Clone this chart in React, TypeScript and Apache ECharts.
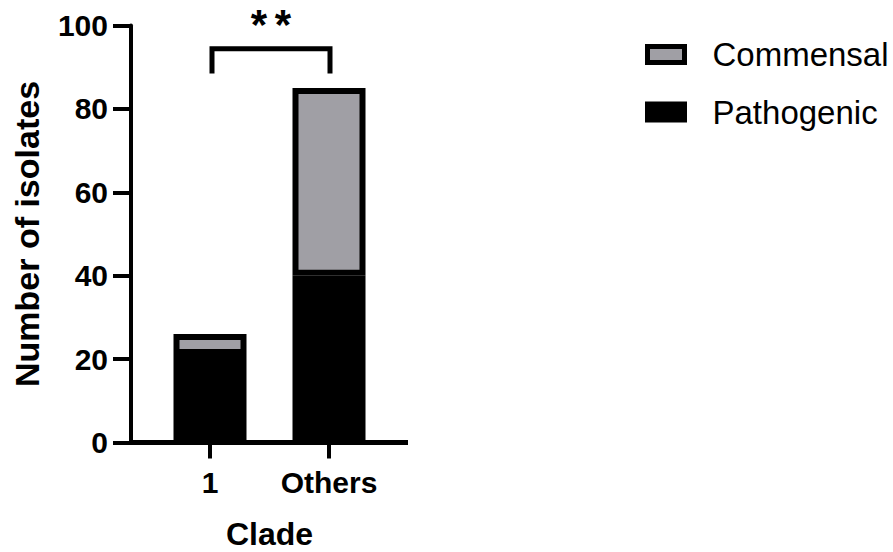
import React, { useEffect, useRef } from "react";
import * as echarts from "echarts";

const categories = ["1", "Others"];
const pathogenic = [21, 40];
const commensal = [5, 45];
const yTicks = [0, 20, 40, 60, 80, 100];
const bracketTop = 94.4;
const bracketBottom = 88.5;
const significance = ["*", "*"];

const FONT = '"Liberation Sans", Arial, Helvetica, sans-serif';
const GRAY = "#a09fa5";

export default function App() {
  const ref = useRef<HTMLDivElement>(null);
  useEffect(() => {
    if (!ref.current) return;
    const chart = echarts.init(ref.current, undefined, { renderer: "svg" });
    const option: any = {
      animation: false,
      backgroundColor: "#ffffff",
      textStyle: { fontFamily: FONT },
      grid: {
        left: 150.5,
        width: 238,
        top: 25.5,
        bottom: 109.5,
        containLabel: false,
        outerBoundsMode: "none",
      },
      legend: {
        orient: "vertical",
        left: 645,
        top: 38,
        padding: 0,
        icon: "rect",
        itemWidth: 37,
        itemHeight: 16,
        itemGap: 24.5,
        textStyle: { fontSize: 33, color: "#000", fontFamily: FONT, lineHeight: 32, padding: [0, 0, 0, 23] },
        data: [
          { name: "Commensal", itemStyle: { color: GRAY, borderColor: "#000", borderWidth: 5 } },
          { name: "Pathogenic", itemStyle: { color: "#000", borderColor: "#000", borderWidth: 5 } },
        ],
      },
      xAxis: {
        type: "category",
        data: categories,
        name: "Clade",
        nameLocation: "middle",
        nameGap: 75,
        nameTextStyle: { fontSize: 32, lineHeight: 32, fontWeight: "bold", color: "#000", fontFamily: FONT },
        axisLine: { show: true, lineStyle: { color: "#000", width: 5 } },
        axisTick: { show: true, alignWithLabel: true, length: 16, lineStyle: { color: "#000", width: 4 } },
        axisLabel: { interval: 0, fontSize: 30, fontWeight: "bold", color: "#000", margin: 25, fontFamily: FONT },
      },
      yAxis: {
        type: "value",
        min: yTicks[0],
        max: yTicks[yTicks.length - 1],
        interval: yTicks[1] - yTicks[0],
        offset: 19.5,
        name: "Number of isolates",
        nameLocation: "middle",
        nameGap: 87,
        nameTextStyle: { fontSize: 34, fontWeight: "bold", color: "#000", fontFamily: FONT },
        axisLine: { show: true, lineStyle: { color: "#000", width: 4 } },
        axisTick: { show: true, length: 18, lineStyle: { color: "#000", width: 4 } },
        axisLabel: { fontSize: 30, fontWeight: "bold", color: "#000", margin: 23, fontFamily: FONT },
        splitLine: { show: false },
      },
      series: [
        {
          name: "Pathogenic",
          type: "bar",
          stack: "total",
          barWidth: 73,
          data: pathogenic,
          itemStyle: { color: "#000", borderColor: "#000", borderWidth: 6 },
        },
        {
          name: "Commensal",
          type: "bar",
          stack: "total",
          barWidth: 73,
          data: commensal,
          itemStyle: { color: GRAY, borderColor: "#000", borderWidth: 6 },
        },
      ],
    };
    chart.setOption(option);

    const p0 = chart.convertToPixel({ xAxisIndex: 0, yAxisIndex: 0 }, [0, bracketTop]) as number[];
    const p1 = chart.convertToPixel({ xAxisIndex: 0, yAxisIndex: 0 }, [1, bracketBottom]) as number[];
    const x0 = p0[0] + 2;
    const x1 = p1[0] + 1;
    const yt = p0[1];
    const yb = p1[1];
    const xm = (x0 + x1) / 2;
    const axisY = chart.convertToPixel({ yAxisIndex: 0 }, 0) as number;
    chart.setOption({
      graphic: [
        {
          type: "polyline",
          shape: { points: [[x0, yb], [x0, yt], [x1, yt], [x1, yb]] },
          style: { stroke: "#000", lineWidth: 5, fill: null },
        },
        ...significance.map((s, i) => ({
          type: "text",
          x: xm + (i === 0 ? -12 : 12),
          y: 3,
          style: {
            text: s,
            font: `bold 42px ${FONT}`,
            fill: "#000",
            textAlign: "center",
            textVerticalAlign: "top",
          },
        })),
        {
          type: "line",
          shape: { x1: 129, y1: axisY, x2: 408, y2: axisY },
          style: { stroke: "#000", lineWidth: 5 },
        },
      ],
    });
    return () => chart.dispose();
  }, []);
  return <div ref={ref} style={{ position: "fixed", left: 0, top: 0, width: 893, height: 552 }} />;
}
